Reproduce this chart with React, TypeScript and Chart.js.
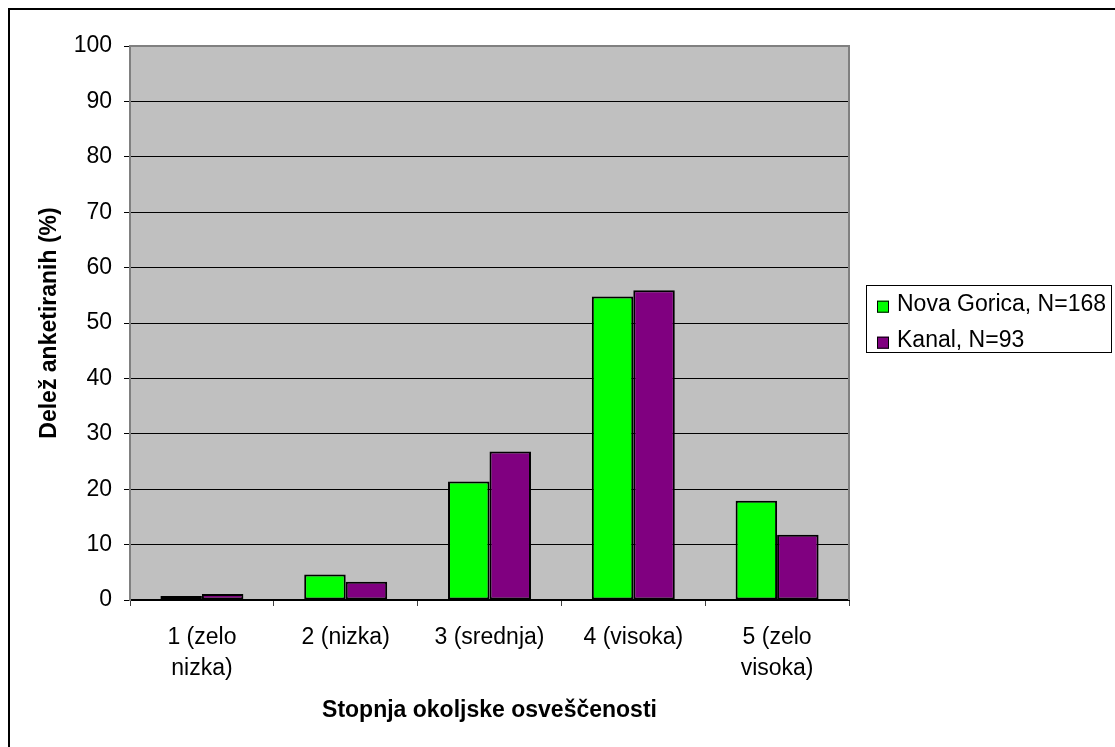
import React, { useEffect, useRef } from "react";
import { Chart, registerables } from "chart.js";

Chart.register(...registerables);

const categories: (string | string[])[] = [
  ["1 (zelo", "nizka)"],
  "2 (nizka)",
  "3 (srednja)",
  "4 (visoka)",
  ["5 (zelo", "visoka)"],
];
const novaGorica = [0.7, 4.6, 21.4, 54.8, 17.9];
const kanal = [1.1, 3.3, 26.8, 55.9, 11.8];
const seriesNames = ["Nova Gorica, N=168", "Kanal, N=93"];
const seriesColors = ["#00FF00", "#800080"];
const yTitle = "Delež anketiranih (%)";
const xTitle = "Stopnja okoljske osveščenosti";
const yMin = 0;
const yMax = 100;
const yStep = 10;

const FONT = "'Liberation Sans', Arial, sans-serif";
const W = 1105;
const H = 737;

const decoPlugin = {
  id: "deco",
  beforeDraw(chart: any) {
    const { ctx, chartArea: a } = chart;
    ctx.save();
    ctx.fillStyle = "#C0C0C0";
    ctx.fillRect(a.left, a.top, a.right - a.left, a.bottom - a.top);
    ctx.restore();
  },
  afterDraw(chart: any) {
    const { ctx, chartArea: a } = chart;
    ctx.save();
    ctx.strokeStyle = "#808080";
    ctx.lineWidth = 2;
    ctx.beginPath();
    ctx.moveTo(a.left, a.top);
    ctx.lineTo(a.right, a.top);
    ctx.lineTo(a.right, a.bottom);
    ctx.stroke();

    ctx.fillStyle = "#000";
    ctx.font = `bold 23px ${FONT}`;
    ctx.textAlign = "center";
    ctx.textBaseline = "middle";
    ctx.fillText(xTitle, (a.left + a.right) / 2, 701);
    ctx.save();
    ctx.translate(40, (a.top + a.bottom) / 2);
    ctx.rotate(-Math.PI / 2);
    ctx.fillText(yTitle, 0, 0);
    ctx.restore();

    const lx = 856, ly = 275, lw = 245, lh = 67;
    ctx.fillStyle = "#FFFFFF";
    ctx.fillRect(lx, ly, lw, lh);
    ctx.strokeStyle = "#000";
    ctx.lineWidth = 1;
    ctx.strokeRect(lx + 0.5, ly + 0.5, lw, lh);
    ctx.font = `23px ${FONT}`;
    ctx.textAlign = "left";
    ctx.textBaseline = "alphabetic";
    const baselines = [300.7, 336.7];
    seriesNames.forEach((name, i) => {
      const b = baselines[i];
      ctx.fillStyle = seriesColors[i];
      ctx.fillRect(867, b - 10, 12, 12);
      ctx.strokeStyle = "#000";
      ctx.lineWidth = 1;
      ctx.strokeRect(867.5, b - 9.5, 11, 11);
      ctx.fillStyle = "#000";
      ctx.fillText(name, 887, b);
    });
    ctx.restore();
  },
};

export default function App() {
  const ref = useRef<HTMLCanvasElement>(null);
  useEffect(() => {
    if (!ref.current) return;
    const chart = new Chart(ref.current, {
      type: "bar",
      data: {
        labels: categories,
        datasets: [
          {
            label: seriesNames[0],
            data: novaGorica,
            backgroundColor: seriesColors[0],
            borderColor: "#000",
            borderWidth: 2,
            borderSkipped: false,
            categoryPercentage: 0.577,
            barPercentage: 1.0,
          },
          {
            label: seriesNames[1],
            data: kanal,
            backgroundColor: seriesColors[1],
            borderColor: "#000",
            borderWidth: 2,
            borderSkipped: false,
            categoryPercentage: 0.577,
            barPercentage: 1.0,
          },
        ],
      },
      options: {
        responsive: false,
        animation: false,
        devicePixelRatio: 1,
        layout: { padding: { left: 0, top: 36, right: W - 839, bottom: 0 } },
        plugins: {
          legend: { display: false },
          tooltip: { enabled: false },
          title: { display: false },
        },
        scales: {
          x: {
            afterFit: (s: any) => {
              s.height = H - 590;
            },
            grid: {
              drawOnChartArea: false,
              drawTicks: true,
              tickLength: 6,
              tickColor: "#404040",
              tickWidth: 1,
            },
            border: { display: true, color: "#000", width: 2 },
            ticks: {
              color: "#000",
              padding: 16,
              maxRotation: 0,
              autoSkip: false,
              font: { family: FONT, size: 23, lineHeight: 1.35 },
            },
          },
          y: {
            min: yMin,
            max: yMax,
            afterFit: (s: any) => {
              s.width = 120;
            },
            grid: {
              color: (c: any) => (c.tick && c.tick.value === yMax ? "#808080" : "#000"),
              lineWidth: 1,
              drawTicks: true,
              tickLength: 6,
              tickColor: "#000",
            },
            border: { display: true, color: "#808080", width: 2 },
            ticks: {
              stepSize: yStep,
              color: "#000",
              padding: 12,
              font: { family: FONT, size: 23 },
            },
          },
        },
      },
      plugins: [decoPlugin],
    });
    return () => chart.destroy();
  }, []);

  return (
    <div
      style={{
        position: "absolute",
        left: 8,
        top: 8,
        width: 1107,
        height: 739,
        boxSizing: "border-box",
        borderLeft: "2px solid #000",
        borderTop: "2px solid #000",
        background: "#fff",
        overflow: "hidden",
      }}
    >
      <canvas ref={ref} width={W} height={H} style={{ display: "block", width: W, height: H }} />
    </div>
  );
}
